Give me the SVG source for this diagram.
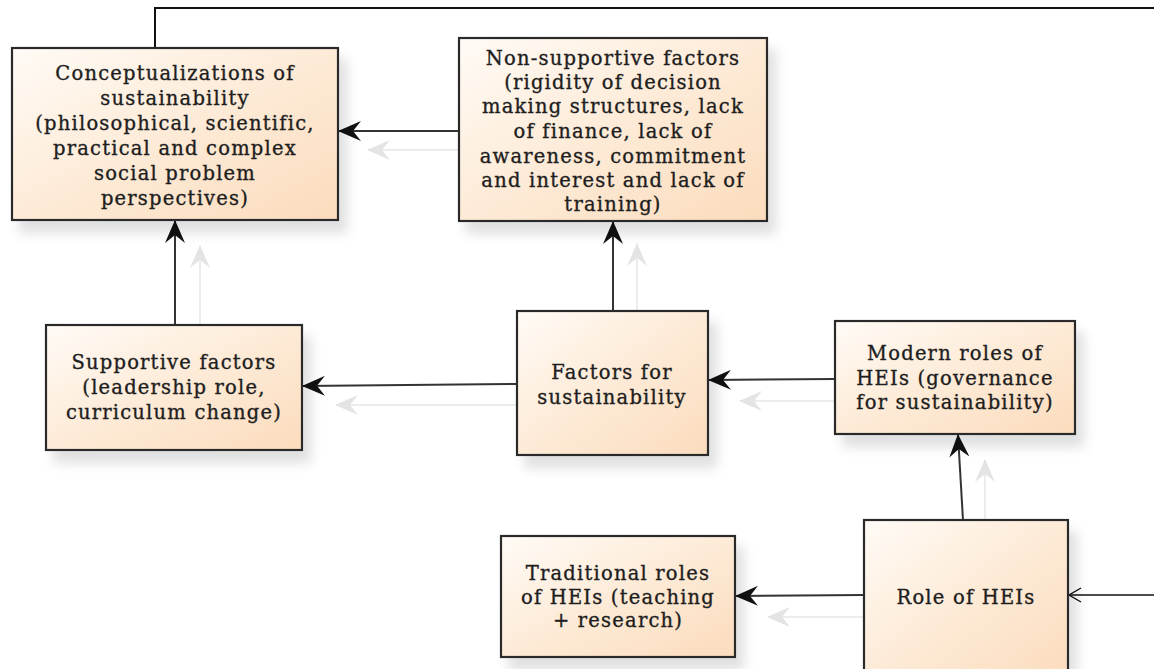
<svg xmlns="http://www.w3.org/2000/svg" width="1154" height="669" viewBox="0 0 1154 669">
<defs>
<linearGradient id="fill" x1="0" y1="0" x2="1" y2="1">
<stop offset="0" stop-color="#fffbf6"/>
<stop offset="0.55" stop-color="#fde9d4"/>
<stop offset="1" stop-color="#fbdcbd"/>
</linearGradient>
<filter id="sh" x="-10%" y="-10%" width="130%" height="140%">
<feDropShadow dx="8" dy="12" stdDeviation="6" flood-color="#000" flood-opacity="0.12"/>
</filter>
<marker id="ah" viewBox="0 0 24 20" refX="22" refY="10" markerWidth="24" markerHeight="20" markerUnits="userSpaceOnUse" orient="auto">
<path d="M23,10 L0,0 L8,10 L0,20 Z" fill="#111"/>
</marker>
<marker id="ahf" viewBox="0 0 24 20" refX="22" refY="10" markerWidth="24" markerHeight="20" markerUnits="userSpaceOnUse" orient="auto">
<path d="M23,10 L0,0 L8,10 L0,20 Z" fill="#e4e4e4"/>
</marker>
<marker id="open" viewBox="0 0 14 16" refX="13" refY="8" markerWidth="14" markerHeight="16" markerUnits="userSpaceOnUse" orient="auto">
<path d="M1,1 L13,8 L1,15" fill="none" stroke="#111" stroke-width="1.4"/>
</marker>
</defs>
<style>
.box{fill:url(#fill);stroke:#2b2b2b;stroke-width:2.2;filter:url(#sh)}
.t{font-family:"DejaVu Serif","Liberation Serif",serif;font-size:19.5px;letter-spacing:1.2px;fill:#1e1e1e;stroke:#1e1e1e;stroke-width:0.35;text-anchor:middle}
.c{fill:none;stroke:#333;stroke-width:2}
.f{fill:none;stroke:#ececec;stroke-width:2}
</style>
<rect width="1154" height="669" fill="#fff"/>
<g id="connectors">
<line class="f" x1="459" y1="150" x2="368" y2="150" marker-end="url(#ahf)"/>
<line class="f" x1="200" y1="325" x2="200" y2="246" marker-end="url(#ahf)"/>
<line class="f" x1="637" y1="311" x2="637" y2="244" marker-end="url(#ahf)"/>
<line class="f" x1="517" y1="405" x2="336" y2="405" marker-end="url(#ahf)"/>
<line class="f" x1="835" y1="401" x2="740" y2="401" marker-end="url(#ahf)"/>
<line class="f" x1="985" y1="520" x2="985" y2="460" marker-end="url(#ahf)"/>
<line class="f" x1="864" y1="617" x2="768" y2="617" marker-end="url(#ahf)"/>
<line class="c" x1="459" y1="131" x2="339" y2="131" marker-end="url(#ah)"/>
<line class="c" x1="175" y1="325" x2="175" y2="221" marker-end="url(#ah)"/>
<line class="c" x1="613" y1="311" x2="613" y2="222" marker-end="url(#ah)"/>
<line class="c" x1="517" y1="384" x2="303" y2="386" marker-end="url(#ah)"/>
<line class="c" x1="835" y1="379" x2="709" y2="380" marker-end="url(#ah)"/>
<line class="c" x1="963" y1="520" x2="958" y2="435" marker-end="url(#ah)"/>
<line class="c" x1="864" y1="595" x2="736" y2="596" marker-end="url(#ah)"/>
<polyline fill="none" stroke="#111" stroke-width="2" points="155,48 155,8 1154,8"/>
<line x1="1154" y1="595" x2="1069" y2="595" stroke="#111" stroke-width="1.5" marker-end="url(#open)"/>
</g>
<g id="concept">
<rect class="box" x="12" y="48" width="326" height="172"/>
<text class="t" x="175" y="80">Conceptualizations of</text>
<text class="t" x="175" y="105">sustainability</text>
<text class="t" x="175" y="130">(philosophical, scientific,</text>
<text class="t" x="175" y="155">practical and complex</text>
<text class="t" x="175" y="180">social problem</text>
<text class="t" x="175" y="205">perspectives)</text>
</g>
<g id="nonsupportive">
<rect class="box" x="459" y="38" width="308" height="183"/>
<text class="t" x="613" y="65">Non-supportive factors</text>
<text class="t" x="613" y="89">(rigidity of decision</text>
<text class="t" x="613" y="113">making structures, lack</text>
<text class="t" x="613" y="138">of finance, lack of</text>
<text class="t" x="613" y="163">awareness, commitment</text>
<text class="t" x="613" y="187">and interest and lack of</text>
<text class="t" x="613" y="211">training)</text>
</g>
<g id="supportive">
<rect class="box" x="46" y="325" width="256" height="125"/>
<text class="t" x="174" y="369">Supportive factors</text>
<text class="t" x="174" y="394">(leadership role,</text>
<text class="t" x="174" y="419">curriculum change)</text>
</g>
<g id="factors">
<rect class="box" x="517" y="311" width="191" height="144"/>
<text class="t" x="612" y="379">Factors for</text>
<text class="t" x="612" y="404">sustainability</text>
</g>
<g id="modern">
<rect class="box" x="835" y="321" width="240" height="113"/>
<text class="t" x="955" y="360">Modern roles of</text>
<text class="t" x="955" y="385">HEIs (governance</text>
<text class="t" x="955" y="409">for sustainability)</text>
</g>
<g id="role">
<rect class="box" x="864" y="520" width="204" height="160"/>
<text class="t" x="966" y="604">Role of HEIs</text>
</g>
<g id="traditional">
<rect class="box" x="501" y="536" width="234" height="121"/>
<text class="t" x="618" y="580">Traditional roles</text>
<text class="t" x="618" y="604">of HEIs (teaching</text>
<text class="t" x="618" y="627">+ research)</text>
</g>
</svg>
